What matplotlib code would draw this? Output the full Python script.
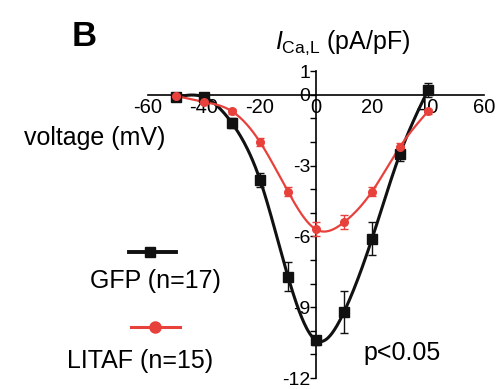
import numpy as np
import matplotlib
matplotlib.use("Agg")
import matplotlib.pyplot as plt
from matplotlib.lines import Line2D

plt.rcParams['font.family'] = ['Liberation Sans', 'DejaVu Sans']
plt.rcParams['mathtext.fontset'] = 'custom'
plt.rcParams['mathtext.rm'] = 'Liberation Sans'
plt.rcParams['mathtext.it'] = 'Liberation Sans:italic'

voltage = [-50, -40, -30, -20, -10, 0, 10, 20, 30, 40]
gfp_mean = [-0.1, -0.1, -1.2, -3.6, -7.7, -10.4, -9.2, -6.1, -2.5, 0.2]
gfp_err = [0.1, 0.1, 0.2, 0.3, 0.6, 0.2, 0.9, 0.7, 0.3, 0.3]
litaf_mean = [-0.05, -0.3, -0.7, -2.0, -4.1, -5.7, -5.4, -4.1, -2.2, -0.7]
litaf_err = [0.05, 0.1, 0.1, 0.15, 0.2, 0.3, 0.3, 0.2, 0.15, 0.1]
x_ticks = [-60, -40, -20, 0, 20, 40, 60]
y_labels = [1, 0, -3, -6, -9, -12]


def spline(x, y, n=300):
    # natural cubic spline, only used to draw a smooth connecting line
    x = np.asarray(x, float)
    y = np.asarray(y, float)
    k = len(x)
    h = np.diff(x)
    A = np.zeros((k, k))
    r = np.zeros(k)
    A[0, 0] = A[-1, -1] = 1
    for i in range(1, k - 1):
        A[i, i - 1] = h[i - 1]
        A[i, i] = 2 * (h[i - 1] + h[i])
        A[i, i + 1] = h[i]
        r[i] = 3 * ((y[i + 1] - y[i]) / h[i] - (y[i] - y[i - 1]) / h[i - 1])
    c = np.linalg.solve(A, r)
    xs = np.linspace(x[0], x[-1], n)
    idx = np.clip(np.searchsorted(x, xs) - 1, 0, k - 2)
    dx = xs - x[idx]
    b = (y[idx + 1] - y[idx]) / h[idx] - h[idx] * (2 * c[idx] + c[idx + 1]) / 3
    d = (c[idx + 1] - c[idx]) / (3 * h[idx])
    return xs, y[idx] + b * dx + c[idx] * dx ** 2 + d * dx ** 3


fig = plt.figure(figsize=(5.0, 3.89), dpi=100)
ax = fig.add_axes([0.296, 0.028, 0.672, 0.789])

xs, ys = spline(voltage, gfp_mean)
ax.plot(xs, ys, color='#111111', lw=2.2, zorder=3)
ax.errorbar(voltage, gfp_mean, yerr=gfp_err, fmt='s', color='#111111',
            ms=6.5, capsize=3, elinewidth=1, capthick=1, zorder=4)

xs, ys = spline(voltage, litaf_mean)
ax.plot(xs, ys, color='#e8413c', lw=1.6, zorder=3)
ax.errorbar(voltage, litaf_mean, yerr=litaf_err, fmt='o', color='#e8413c',
            ms=5.5, capsize=3, elinewidth=1, capthick=1, zorder=4)

ax.set_xlim(-60, 60)
ax.set_ylim(-12, 1)
for s in ['top', 'right']:
    ax.spines[s].set_visible(False)
ax.spines['left'].set_position(('data', 0))
ax.spines['bottom'].set_position(('data', 0))
ax.spines['left'].set_linewidth(1.2)
ax.spines['bottom'].set_linewidth(1.2)

ax.set_xticks(x_ticks)
ax.set_xticklabels([str(v) for v in x_ticks], fontsize=14.5)
ax.tick_params(axis='x', length=0, pad=2)
ax.set_yticks(np.arange(-12, 2, 1))
ax.set_yticklabels([str(v) if v in y_labels else '' for v in range(-12, 2)],
                   fontsize=14)
ax.tick_params(axis='y', length=4, width=1, pad=0)

fig.text(0.168, 0.905, 'B', fontsize=25, fontweight='bold', ha='center', va='center')
fig.text(0.685, 0.89, r'$I_{\mathrm{Ca{,}L}}$ (pA/pF)', fontsize=18, ha='center', va='center')
fig.text(0.19, 0.645, 'voltage (mV)', fontsize=18, ha='center', va='center')

fig.add_artist(Line2D([0.258, 0.30, 0.352], [0.352, 0.352, 0.352], color='#111111',
                      lw=2.8, marker='s', ms=7.5, markevery=[1],
                      transform=fig.transFigure))
fig.text(0.31, 0.278, 'GFP (n=17)', fontsize=18, ha='center', va='center')
fig.add_artist(Line2D([0.262, 0.31, 0.36], [0.16, 0.16, 0.16], color='#e8413c',
                      lw=2.2, marker='o', ms=8, markevery=[1],
                      transform=fig.transFigure))
fig.text(0.28, 0.072, 'LITAF (n=15)', fontsize=18, ha='center', va='center')
fig.text(0.804, 0.093, 'p<0.05', fontsize=18, ha='center', va='center')

fig.savefig('out.png', dpi=100)
